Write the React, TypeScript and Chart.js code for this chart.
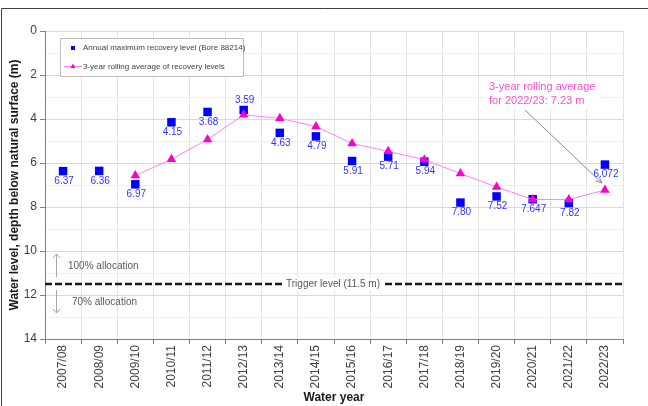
import React, { useEffect, useRef } from "react";
import { Chart, registerables } from "chart.js";

Chart.register(...registerables);

const CATEGORIES = [
  "2007/08", "2008/09", "2009/10", "2010/11", "2011/12", "2012/13", "2013/14", "2014/15",
  "2015/16", "2016/17", "2017/18", "2018/19", "2019/20", "2020/21", "2021/22", "2022/23",
];
const ANNUAL_MAX = [6.37, 6.36, 6.97, 4.15, 3.68, 3.59, 4.63, 4.79, 5.91, 5.71, 5.94, 7.8, 7.52, 7.647, 7.82, 6.072];
const ANNUAL_LABELS = ["6.37", "6.36", "6.97", "4.15", "3.68", "3.59", "4.63", "4.79", "5.91", "5.71", "5.94", "7.80", "7.52", "7.647", "7.82", "6.072"];
const ROLLING_AVG = [null, null, 6.57, 5.83, 4.93, 3.81, 3.97, 4.34, 5.11, 5.47, 5.85, 6.48, 7.09, 7.66, 7.66, 7.23];
const TRIGGER_LEVEL = 11.5;
const Y_TICKS_MIN = 0;
const Y_TICKS_MAX = 14;

const FONT = "'Liberation Sans', Arial, sans-serif";

const overlayPlugin = {
  id: "overlay",
  beforeDraw(chart: any) {
    const ctx = chart.ctx;
    ctx.save();
    ctx.fillStyle = "#ffffff";
    ctx.fillRect(0, 0, chart.width, chart.height);
    ctx.restore();
  },
  beforeDatasetsDraw(chart: any) {
    const { ctx, chartArea, scales } = chart;
    const y = scales.y.getPixelForValue(TRIGGER_LEVEL);
    ctx.save();
    // trigger line
    ctx.strokeStyle = "#1a1a1a";
    ctx.lineWidth = 2.5;
    ctx.setLineDash([7, 3]);
    ctx.beginPath();
    ctx.moveTo(chartArea.left, y);
    ctx.lineTo(chartArea.right, y);
    ctx.stroke();
    ctx.setLineDash([]);
    // trigger text
    ctx.font = `10px ${FONT}`;
    const t = "Trigger level (11.5 m)";
    const w = ctx.measureText(t).width;
    const cx = 333;
    ctx.fillStyle = "#ffffff";
    ctx.fillRect(cx - w / 2 - 3, y - 7, w + 6, 14);
    ctx.fillStyle = "#595959";
    ctx.textAlign = "center";
    ctx.textBaseline = "middle";
    ctx.fillText(t, cx, y);
    // allocation texts
    ctx.textAlign = "left";
    ctx.fillText("100% allocation", 68, 266);
    ctx.fillText("70% allocation", 72, 302);
    // allocation arrows
    ctx.strokeStyle = "#a6a6a6";
    ctx.lineWidth = 1;
    const ax = 56.5;
    ctx.beginPath();
    ctx.moveTo(ax, 277);
    ctx.lineTo(ax, 254);
    ctx.moveTo(ax - 3.5, 258);
    ctx.lineTo(ax, 254);
    ctx.lineTo(ax + 3.5, 258);
    ctx.moveTo(ax, 290);
    ctx.lineTo(ax, 313);
    ctx.moveTo(ax - 3.5, 309);
    ctx.lineTo(ax, 313);
    ctx.lineTo(ax + 3.5, 309);
    ctx.stroke();
    // annotation text
    ctx.font = `11px ${FONT}`;
    const l1 = "3-year rolling average";
    const l2 = "for 2022/23: 7.23 m";
    const w1 = ctx.measureText(l1).width;
    ctx.fillStyle = "#ffffff";
    ctx.fillRect(486, 79, w1 + 6, 30);
    ctx.fillStyle = "#ff4fd0";
    ctx.textBaseline = "middle";
    ctx.fillText(l1, 489, 87);
    ctx.fillText(l2, 489, 101);
    // annotation arrow to last rolling average point
    const meta = chart.getDatasetMeta(0);
    const last = meta.data[meta.data.length - 1];
    const ex = last.x - 3;
    const ey = last.y - 7;
    const sx = 525;
    const sy = 110;
    ctx.strokeStyle = "#8c8c8c";
    ctx.lineWidth = 1;
    ctx.beginPath();
    ctx.moveTo(sx, sy);
    ctx.lineTo(ex, ey);
    const ang = Math.atan2(ey - sy, ex - sx);
    const ah = 7;
    ctx.moveTo(ex - ah * Math.cos(ang - 0.4), ey - ah * Math.sin(ang - 0.4));
    ctx.lineTo(ex, ey);
    ctx.lineTo(ex - ah * Math.cos(ang + 0.4), ey - ah * Math.sin(ang + 0.4));
    ctx.stroke();
    ctx.restore();
  },
  afterDatasetsDraw(chart: any) {
    const { ctx } = chart;
    ctx.save();
    // data labels
    const meta = chart.getDatasetMeta(1);
    ctx.font = `10px ${FONT}`;
    ctx.fillStyle = "#3333ff";
    ctx.textAlign = "center";
    ctx.textBaseline = "middle";
    meta.data.forEach((pt: any, i: number) => {
      const above = CATEGORIES[i] === "2012/13";
      ctx.fillText(ANNUAL_LABELS[i], pt.x + 1, above ? pt.y - 10 : pt.y + 10);
    });
    // legend
    ctx.fillStyle = "#ffffff";
    ctx.fillRect(60.5, 38.5, 183, 38);
    ctx.strokeStyle = "#bfbfbf";
    ctx.lineWidth = 1;
    ctx.strokeRect(60.5, 38.5, 183, 38);
    ctx.fillStyle = "#0000ff";
    ctx.fillRect(71, 46, 4, 4);
    ctx.strokeStyle = "#ff80ff";
    ctx.beginPath();
    ctx.moveTo(64, 66.5);
    ctx.lineTo(82, 66.5);
    ctx.stroke();
    ctx.fillStyle = "#ff00cc";
    ctx.beginPath();
    ctx.moveTo(73, 63.5);
    ctx.lineTo(75.5, 68);
    ctx.lineTo(70.5, 68);
    ctx.closePath();
    ctx.fill();
    ctx.font = `8px ${FONT}`;
    ctx.fillStyle = "#404040";
    ctx.textAlign = "left";
    ctx.fillText("Annual maximum recovery level (Bore 88214)", 83, 48);
    ctx.fillText("3-year rolling average of recovery levels", 83, 66.5);
    // frame
    ctx.strokeStyle = "#404040";
    ctx.lineWidth = 1;
    ctx.beginPath();
    ctx.moveTo(1.5, chart.height);
    ctx.lineTo(1.5, 8.5);
    ctx.lineTo(chart.width, 8.5);
    ctx.stroke();
    ctx.restore();
  },
};

export default function App() {
  const ref = useRef<HTMLCanvasElement>(null);
  useEffect(() => {
    document.body.style.margin = "0";
    const chart = new Chart(ref.current as HTMLCanvasElement, {
      type: "line",
      data: {
        labels: CATEGORIES,
        datasets: [
          {
            label: "3-year rolling average of recovery levels",
            data: ROLLING_AVG,
            borderColor: "#ff80ff",
            borderWidth: 1,
            pointStyle: "triangle",
            pointRadius: 5.5,
            pointBackgroundColor: "#ff00cc",
            pointBorderColor: "#ff00cc",
            pointBorderWidth: 0,
            fill: false,
            tension: 0,
          },
          {
            label: "Annual maximum recovery level (Bore 88214)",
            data: ANNUAL_MAX,
            showLine: false,
            pointStyle: "rect",
            pointRadius: 6,
            pointBackgroundColor: "#0000ff",
            pointBorderColor: "#0000ff",
            pointBorderWidth: 0,
          },
        ],
      },
      options: {
        animation: false,
        responsive: false,
        devicePixelRatio: 1,
        layout: { padding: { left: 0, top: 31, right: 25, bottom: 0 } },
        plugins: { legend: { display: false }, tooltip: { enabled: false } },
        scales: {
          x: {
            offset: true,
            afterFit(scale: any) {
              scale.height = 67;
            },
            grid: { offset: true, color: "#e3e3e3", tickColor: "#808080", tickLength: 5 },
            border: { color: "#808080" },
            ticks: {
              maxRotation: 90,
              minRotation: 90,
              padding: 1,
              autoSkip: false,
              color: "#404040",
              font: { family: FONT, size: 12 },
            },
            title: {
              display: true,
              text: "Water year",
              color: "#1a1a1a",
              font: { family: FONT, size: 12, weight: "bold" },
              padding: { top: 0, bottom: 1 },
            },
          },
          y: {
            reverse: true,
            min: Y_TICKS_MIN,
            max: Y_TICKS_MAX,
            afterFit(scale: any) {
              scale.width = 45;
            },
            grid: {
              color: (c: any) => (c.tick && c.tick.value % 2 === 0 ? "#d9d9d9" : "#efefef"),
              tickColor: (c: any) => (c.tick && c.tick.value % 2 === 0 ? "#808080" : "rgba(0,0,0,0)"),
              tickLength: 5,
            },
            border: { color: "#808080" },
            ticks: {
              stepSize: 1,
              padding: 3,
              color: "#404040",
              font: { family: FONT, size: 12 },
              callback: (v: any) => (Number(v) % 2 === 0 ? String(v) : ""),
            },
            title: {
              display: true,
              text: "Water level, depth below natural surface (m)",
              color: "#1a1a1a",
              font: { family: FONT, size: 12, weight: "bold" },
              padding: { top: 7, bottom: 0 },
            },
          },
        },
      },
      plugins: [overlayPlugin],
    } as any);
    return () => chart.destroy();
  }, []);
  return (
    <div style={{ position: "absolute", left: 0, top: 0, width: 648, height: 406 }}>
      <canvas ref={ref} width={648} height={406} style={{ display: "block" }} />
    </div>
  );
}
